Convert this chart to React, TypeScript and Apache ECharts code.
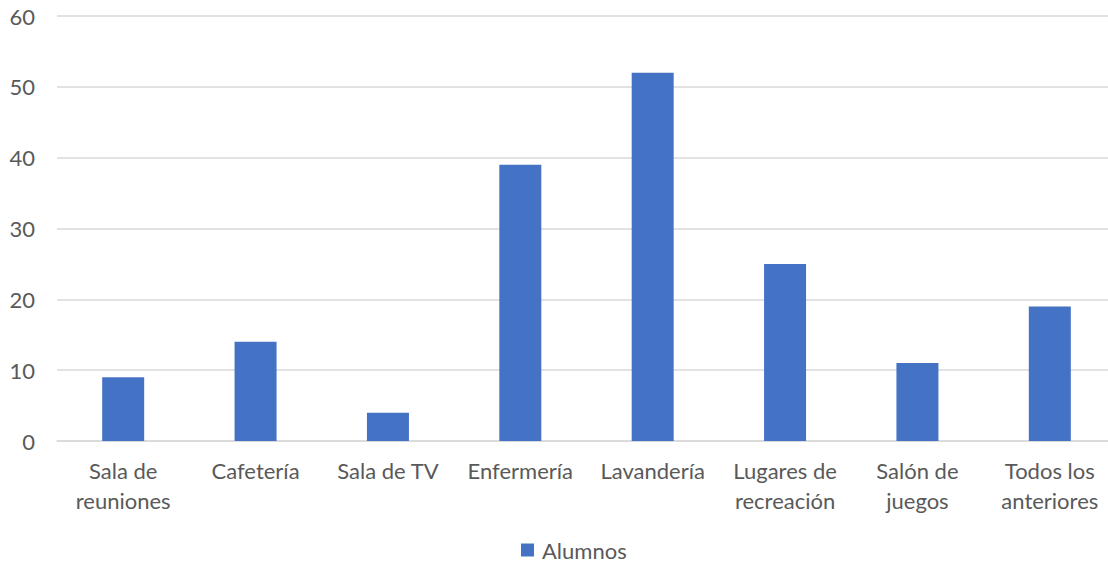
import React, { useEffect, useRef } from "react";
import * as echarts from "echarts";

const categories = [
  "Sala de\nreuniones",
  "Cafetería",
  "Sala de TV",
  "Enfermería",
  "Lavandería",
  "Lugares de\nrecreación",
  "Salón de\njuegos",
  "Todos los\nanteriores",
];
const alumnos = [9, 14, 4, 39, 52, 25, 11, 19];
const seriesName = "Alumnos";

export default function App() {
  const ref = useRef<HTMLDivElement>(null);
  useEffect(() => {
    document.body.style.margin = "0";
    const chart = echarts.init(ref.current!, null, { renderer: "svg" });
    const font = "Lato, 'Open Sans', sans-serif";
    chart.setOption({
      animation: false,
      textStyle: { fontFamily: font },
      legend: {
        bottom: 1,
        left: 516,
        itemWidth: 13,
        itemHeight: 13,
        icon: "rect",
        itemGap: 6,
        textStyle: { fontSize: 22, color: "#595959", fontFamily: font, padding: [0, 0, 0, 3] },
        data: [seriesName],
      },
      grid: { left: 57, top: 16, width: 1059, height: 425, containLabel: false },
      xAxis: {
        type: "category",
        data: categories,
        axisLine: { lineStyle: { color: "#D9D9D9", width: 1.5 } },
        axisTick: { show: false },
        axisLabel: { fontSize: 22, color: "#595959", lineHeight: 30, margin: 14, fontFamily: font, interval: 0 },
      },
      yAxis: {
        type: "value",
        min: 0,
        max: 60,
        interval: 10,
        axisLine: { show: false },
        axisTick: { show: false },
        splitLine: { lineStyle: { color: "#D9D9D9", width: 1.5 } },
        axisLabel: { fontSize: 22, color: "#595959", margin: 22, fontFamily: font },
      },
      series: [
        {
          name: seriesName,
          type: "bar",
          data: alumnos,
          barWidth: 42,
          itemStyle: { color: "#4472C4" },
        },
      ],
    });
    return () => chart.dispose();
  }, []);
  return (
    <div style={{ width: 1108, height: 567, overflow: "hidden" }}>
      <div ref={ref} style={{ width: 1116, height: 567 }} />
    </div>
  );
}
